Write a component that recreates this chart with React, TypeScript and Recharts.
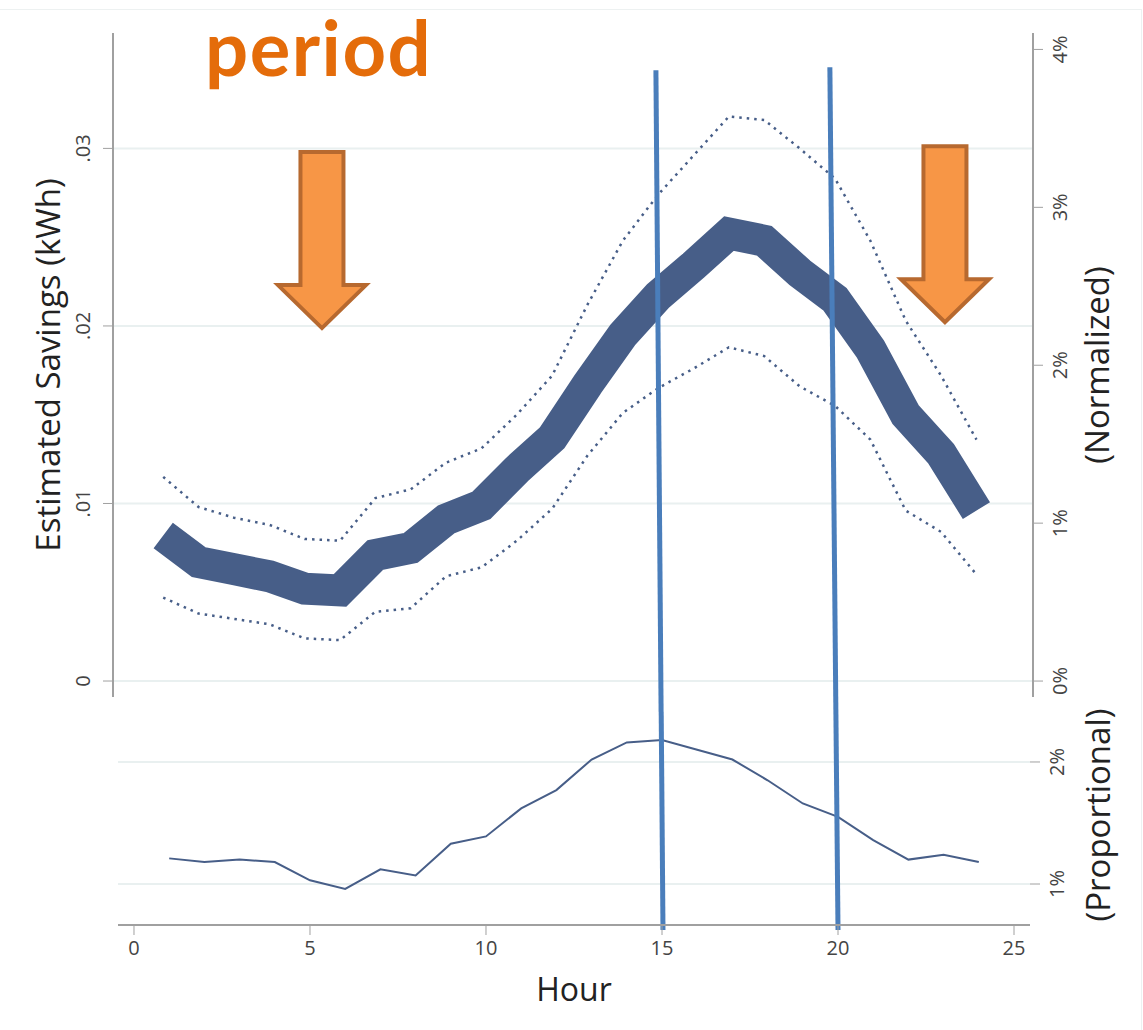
import React from 'react';
import { LineChart, Line, XAxis, YAxis, CartesianGrid, ReferenceLine, ReferenceDot } from 'recharts';

// hour of day
const hours = [1, 2, 3, 4, 5, 6, 7, 8, 9, 10, 11, 12, 13, 14, 15, 16, 17, 18, 19, 20, 21, 22, 23, 24];

// estimated savings (kWh) with confidence band
const savings = [0.0082, 0.0067, 0.0063, 0.0059, 0.0052, 0.0051, 0.0071, 0.0075, 0.0091, 0.0099, 0.0119, 0.0137,
  0.0167, 0.0195, 0.0217, 0.0234, 0.0252, 0.0248, 0.023, 0.0215, 0.0187, 0.015, 0.0128, 0.0096];
const upperBound = [0.0115, 0.0098, 0.0092, 0.0088, 0.008, 0.0079, 0.0103, 0.0108, 0.0123, 0.0131, 0.015, 0.0172,
  0.0212, 0.0248, 0.0274, 0.0296, 0.0318, 0.0316, 0.03, 0.0283, 0.0248, 0.0203, 0.0172, 0.0136];
const lowerBound = [0.0047, 0.0038, 0.0035, 0.0032, 0.0024, 0.0023, 0.0039, 0.0041, 0.0059, 0.0064, 0.0079, 0.0097,
  0.0127, 0.0151, 0.0165, 0.0176, 0.0188, 0.0183, 0.0166, 0.0155, 0.0136, 0.0096, 0.0084, 0.006];

// proportional savings (%)
const proportional = [1.21, 1.18, 1.2, 1.18, 1.03, 0.96, 1.12, 1.07, 1.33, 1.39, 1.62, 1.77,
  2.02, 2.16, 2.18, 2.1, 2.02, 1.85, 1.66, 1.55, 1.36, 1.2, 1.24, 1.18];

const kwhTicks = [0, 0.01, 0.02, 0.03];
const normTicks = [0, 1, 2, 3, 4];
const propTicks = [1, 2];
const hourTicks = [0, 5, 10, 15, 20, 25];

const topData = hours.map((h, i) => ({ hour: h, savings: savings[i], upper: upperBound[i], lower: lowerBound[i] }));
const bottomData = hours.map((h, i) => ({ hour: h, prop: proportional[i] }));

const NAVY = '#475e88';
const AXIS = '#a0a0a0';
const GRID = '#e9f0f0';
const TEXT = '#444';
const BLUE = '#4a7ebb';
const FONT = '"Open Sans", sans-serif';

const fmtKwh = (v: number) => (v === 0 ? '0' : v.toFixed(2).replace(/^0/, ''));
const fmtPct = (v: number) => `${v}%`;

const RotatedTick = ({ x, y, payload, shift, fmt }: any) => {
  const tx = x + shift;
  return (
    <text x={tx} y={y} transform={`rotate(-90 ${tx} ${y})`} textAnchor="middle" dominantBaseline="central"
      fill={TEXT} fontSize={20} fontFamily={FONT}>
      {fmt(payload.value)}
    </text>
  );
};

const HourTick = ({ x, y, payload }: any) => (
  <text x={x} y={y + 10} textAnchor="middle" dominantBaseline="central" fill={TEXT} fontSize={20} fontFamily={FONT}>
    {payload.value}
  </text>
);

const axisTitle = (text: string, dx: number, dy = 0, size = 33) => ({ viewBox }: any) => {
  const cx = viewBox.x + dx;
  const cy = viewBox.y + viewBox.height / 2 + dy;
  return (
    <text x={cx} y={cy} transform={`rotate(-90 ${cx} ${cy})`} textAnchor="middle" dominantBaseline="central"
      fill="#222" fontSize={size} fontFamily={FONT}>
      {text}
    </text>
  );
};

const DownArrow = ({ cx, cy }: any) => {
  const pts = [[-21.5, -176], [21.5, -176], [21.5, -43], [44, -43], [0, 0], [-44, -43], [-21.5, -43]]
    .map(([dx, dy]) => `${cx + dx},${cy + dy}`)
    .join(' ');
  return <polygon points={pts} fill="#f79646" stroke="#b7692f" strokeWidth={4} />;
};

export default function App() {
  return (
    <div style={{ position: 'absolute', left: 0, top: 0, width: 1143, height: 1030, background: '#fff', overflow: 'hidden' }}>
      <div style={{ position: 'absolute', left: 0, top: 9, width: 1141, height: 1040, borderTop: '1px solid #edf1f1', borderRight: '1px solid #edf1f1' }} />

      <svg style={{ position: 'absolute', left: 0, top: 0 }} width={1143} height={110}>
        <text x={205} y={76} fill="#e46c0a" fontSize={76} fontWeight={700} letterSpacing={1.5} fontFamily="Lato, sans-serif">period</text>
      </svg>

      <div style={{ position: 'absolute', left: 0, top: 0 }}>
        <LineChart width={1143} height={712} data={topData} margin={{ top: 33, left: 53, right: 50, bottom: 15 }}>
          <CartesianGrid yAxisId="kwh" vertical={false} horizontalValues={kwhTicks} stroke={GRID} strokeWidth={2} />
          <XAxis dataKey="hour" type="number" domain={[-0.42, 25.6]} allowDataOverflow ticks={hourTicks}
            tick={false} tickLine={false} height={0} axisLine={{ stroke: AXIS, strokeWidth: 2 }} />
          <YAxis yAxisId="kwh" orientation="left" width={60} domain={[-0.0009, 0.0365]} allowDataOverflow
            ticks={kwhTicks} tickSize={10} tickLine={{ stroke: AXIS }} axisLine={{ stroke: AXIS, strokeWidth: 2 }}
            tick={<RotatedTick shift={-18} fmt={fmtKwh} />}
            label={{ content: axisTitle('Estimated Savings (kWh)', -6) }} />
          <YAxis yAxisId="norm" orientation="right" width={60} domain={[-0.101, 4.104]} allowDataOverflow
            ticks={normTicks} tickSize={10} tickLine={{ stroke: AXIS }} axisLine={{ stroke: AXIS, strokeWidth: 2 }}
            tick={<RotatedTick shift={15} fmt={fmtPct} />}
            label={{ content: axisTitle('(Normalized)', 63) }} />

          <Line yAxisId="kwh" dataKey="upper" stroke={NAVY} strokeWidth={2.5} strokeDasharray="2.5 5" dot={false} isAnimationActive={false} />
          <Line yAxisId="kwh" dataKey="lower" stroke={NAVY} strokeWidth={2.5} strokeDasharray="2.5 5" dot={false} isAnimationActive={false} />
          <Line yAxisId="kwh" dataKey="savings" stroke={NAVY} strokeWidth={32} strokeLinejoin="miter" strokeLinecap="butt" dot={false} isAnimationActive={false} />

          <ReferenceDot yAxisId="kwh" x={5.49} y={0.01988} r={0} ifOverflow="visible" shape={<DownArrow />} />
          <ReferenceDot yAxisId="kwh" x={23.11} y={0.02021} r={0} ifOverflow="visible" shape={<DownArrow />} />

          <ReferenceLine yAxisId="kwh" segment={[{ x: 14.935, y: 0.0344 }, { x: 15.082, y: -0.00175 }]}
            stroke={BLUE} strokeWidth={5} ifOverflow="visible" />
          <ReferenceLine yAxisId="kwh" segment={[{ x: 19.855, y: 0.03457 }, { x: 20.025, y: -0.00175 }]}
            stroke={BLUE} strokeWidth={5} ifOverflow="visible" />
        </LineChart>
      </div>

      <div style={{ position: 'absolute', left: 0, top: 690 }}>
        <LineChart width={1143} height={340} data={bottomData} margin={{ top: 25, left: 68, right: 53, bottom: 35 }}>
          <CartesianGrid yAxisId="prop" vertical={false} horizontalValues={propTicks} stroke={GRID} strokeWidth={2} />
          <XAxis dataKey="hour" type="number" domain={[-0.4545, 25.4545]} allowDataOverflow ticks={hourTicks}
            height={70} tickSize={10} tickLine={{ stroke: AXIS }} axisLine={{ stroke: AXIS, strokeWidth: 2 }}
            tick={<HourTick />}
            label={{
              content: ({ viewBox }: any) => (
                <text x={viewBox.x + viewBox.width / 2} y={viewBox.y + 63} textAnchor="middle" dominantBaseline="central"
                  fill="#222" fontSize={32} fontFamily={FONT}>Hour</text>
              ),
            }} />
          <YAxis yAxisId="propLeft" orientation="left" width={50} domain={[0.664, 2.385]} allowDataOverflow
            ticks={propTicks} tickSize={10} tickLine={{ stroke: AXIS }} axisLine={false} tick={false} />
          <YAxis yAxisId="prop" orientation="right" width={60} domain={[0.664, 2.385]} allowDataOverflow
            ticks={propTicks} tickSize={10} tickLine={{ stroke: AXIS }} axisLine={false}
            tick={<RotatedTick shift={15} fmt={fmtPct} />}
            label={{ content: axisTitle('(Proportional)', 67, -5, 33) }} />

          <Line yAxisId="prop" dataKey="prop" stroke={NAVY} strokeWidth={2} dot={false} isAnimationActive={false} />

          <ReferenceLine yAxisId="prop" segment={[{ x: 14.977, y: 2.41 }, { x: 15.028, y: 0.623 }]}
            stroke={BLUE} strokeWidth={5} ifOverflow="visible" />
          <ReferenceLine yAxisId="prop" segment={[{ x: 19.94, y: 2.41 }, { x: 20.0, y: 0.623 }]}
            stroke={BLUE} strokeWidth={5} ifOverflow="visible" />
        </LineChart>
      </div>
    </div>
  );
}
